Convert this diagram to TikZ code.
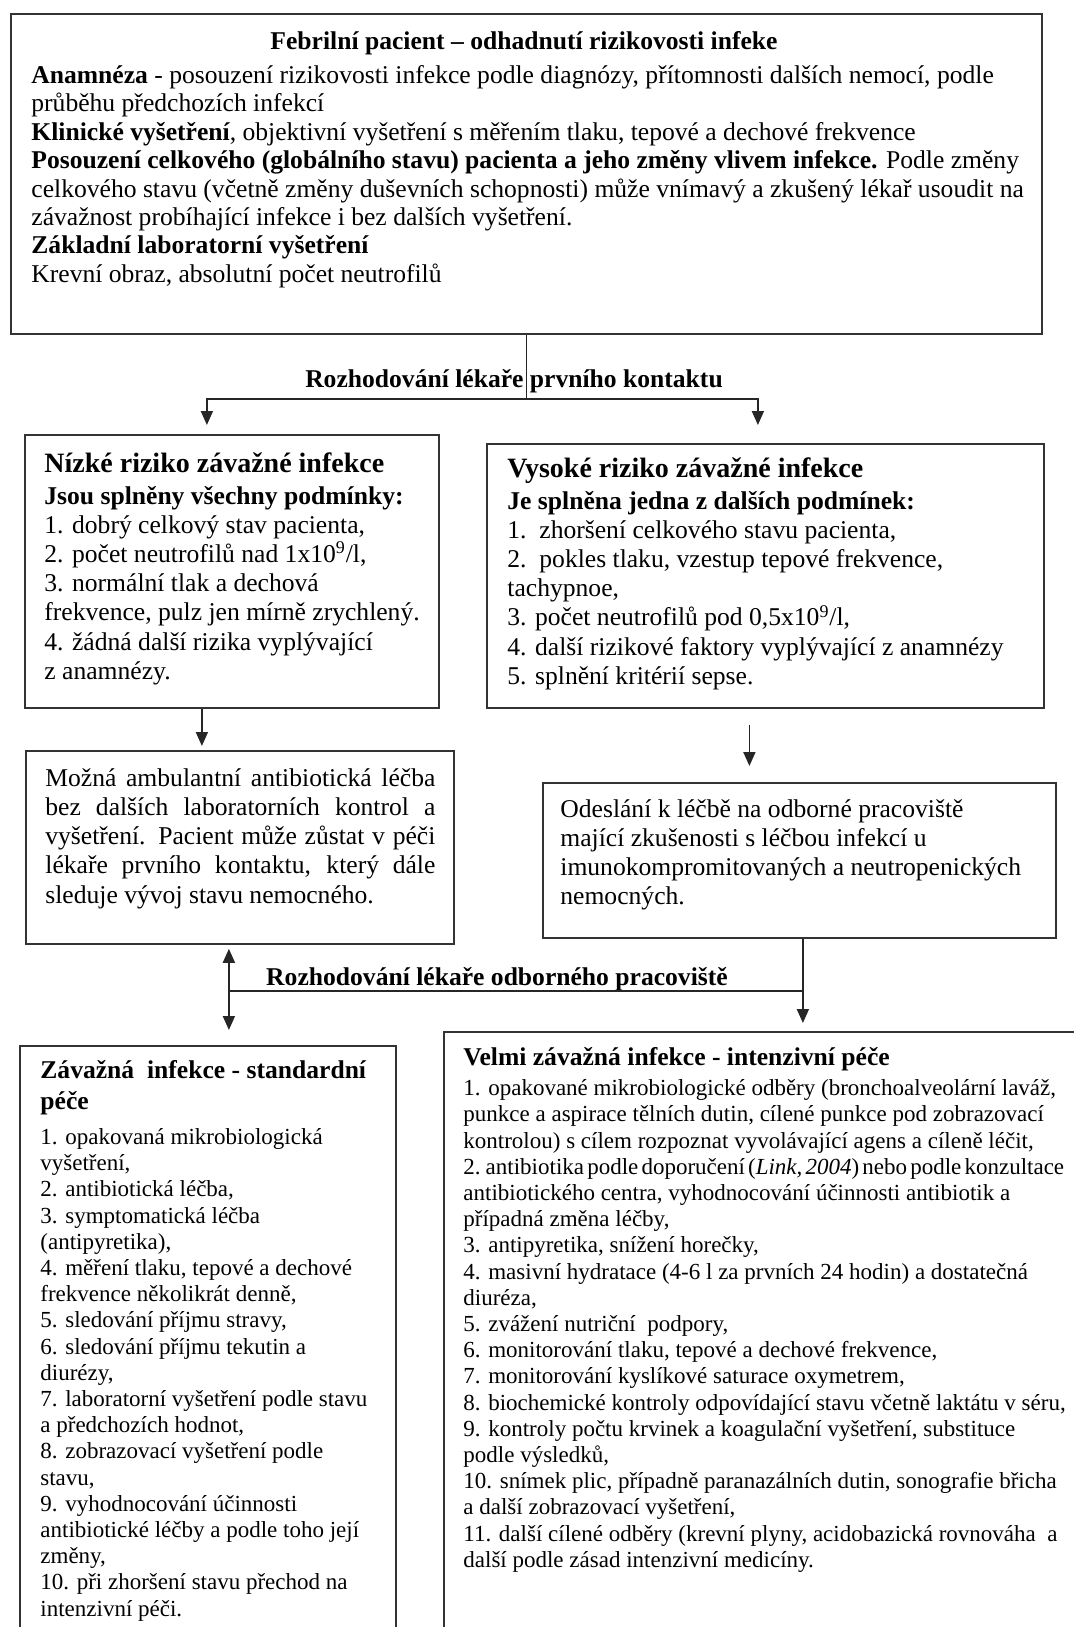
\documentclass[tikz,border=0pt]{standalone}
\usepackage{fontspec}
\setmainfont{Liberation Serif}
\usetikzlibrary{arrows.meta}

\newcommand\mainfont{\fontsize{12.8pt}{14.2pt}\selectfont}
\newcommand\riskfont{\fontsize{12.8pt}{14.6pt}\selectfont}
\newcommand\carefont{\fontsize{11.5pt}{13.1pt}\selectfont}
\newcommand\bighead{\fontsize{14pt}{15pt}\selectfont\bfseries}
\newcommand\smallhead{\fontsize{12.8pt}{14pt}\selectfont\bfseries}

\begin{document}
\begin{tikzpicture}[x=0.5pt, y=-0.5pt,
    box/.style={draw=black!80, line width=0.9pt, anchor=north west, inner sep=0pt},
    txt/.style={anchor=north west, inner sep=0pt, align=left},
    conn/.style={draw=black!85, line width=0.9pt},
    arr/.style={conn, -{Triangle[length=7pt,width=6pt]}},
    dblarr/.style={conn, {Triangle[length=7pt,width=6pt]}-{Triangle[length=7pt,width=6pt]}},
    lbl/.style={font=\smallhead, inner sep=0pt}]
    \clip (0,0) rectangle (1074,1627);

    % boxes
    \node[box, minimum width=515.5pt, minimum height=160pt] at (10,13) (pacient) {};
    \node[box, minimum width=207pt, minimum height=136.5pt] at (24,434) (nizke) {};
    \node[box, minimum width=278.5pt, minimum height=132pt] at (486,443) (vysoke) {};
    \node[box, minimum width=214pt, minimum height=96.5pt] at (25,750) (ambul) {};
    \node[box, minimum width=256.5pt, minimum height=77.5pt] at (542,782) (odesl) {};
    \node[box, minimum width=188pt, minimum height=310pt] at (19,1045) (standard) {};
    \node[box, minimum width=330pt, minimum height=320pt] at (443,1031) (intenziv) {};

    % texts
    \node[font=\smallhead, anchor=north, inner sep=0pt] at (524,31) (titul)
        {Febrilní pacient – odhadnutí rizikovosti infeke};
    \node[txt, font=\mainfont] at (31,65) (pacienttext)
        {\textbf{Anamnéza} - posouzení rizikovosti infekce podle diagnózy, přítomnosti dalších nemocí, podle\\
         průběhu předchozích infekcí\\
         \textbf{Klinické vyšetření}, objektivní vyšetření s měřením tlaku, tepové a dechové frekvence\\
         \textbf{Posouzení celkového (globálního stavu) pacienta a jeho změny vlivem infekce.} Podle změny\\
         celkového stavu (včetně změny duševních schopnosti) může vnímavý a zkušený lékař usoudit na\\
         závažnost probíhající infekce i bez dalších vyšetření.\\
         \textbf{Základní laboratorní vyšetření}\\
         Krevní obraz, absolutní počet neutrofilů};

    \node[txt, font=\riskfont] at (44,452) (nizketext)
        {{\bighead Nízké riziko závažné infekce}\\[1.4pt]
         \textbf{Jsou splněny všechny podmínky:}\\
         1. dobrý celkový stav pacienta,\\
         2. počet neutrofilů nad 1x10\textsuperscript{9}/l,\\
         3. normální tlak a dechová\\
         frekvence, pulz jen mírně zrychlený.\\
         4. žádná další rizika vyplývající\\
         z anamnézy.};

    \node[txt, font=\riskfont] at (507,457) (vysoketext)
        {{\bighead Vysoké riziko závažné infekce}\\[1.4pt]
         \textbf{Je splněna jedna z dalších podmínek:}\\
         1.\ \ zhoršení celkového stavu pacienta,\\
         2.\ \ pokles tlaku, vzestup tepové frekvence,\\
         tachypnoe,\\
         3. počet neutrofilů pod 0,5x10\textsuperscript{9}/l,\\
         4. další rizikové faktory vyplývající z anamnézy\\
         5. splnění kritérií sepse.};

    \node[txt, font=\riskfont, text width=195pt, align=justify] at (45,768) (ambultext)
        {Možná ambulantní antibiotická léčba\linebreak
         bez dalších laboratorních kontrol a\linebreak
         vyšetření. Pacient může zůstat v péči\linebreak
         lékaře prvního kontaktu, který dále\linebreak
         sleduje vývoj stavu nemocného.};

    \node[txt, font=\riskfont] at (560,799) (odesltext)
        {Odeslání k léčbě na odborné pracoviště\\
         mající zkušenosti s léčbou infekcí u\\
         imunokompromitovaných a neutropenických\\
         nemocných.};

    \node[txt, font=\carefont] at (40,1060) (standardtext)
        {{\smallhead Závažná\ \ infekce - standardní}\\[2.4pt]
         {\smallhead péče}\\[4.4pt]
         1. opakovaná mikrobiologická\\
         vyšetření,\\
         2. antibiotická léčba,\\
         3. symptomatická léčba\\
         (antipyretika),\\
         4. měření tlaku, tepové a dechové\\
         frekvence několikrát denně,\\
         5. sledování příjmu stravy,\\
         6. sledování příjmu tekutin a\\
         diurézy,\\
         7. laboratorní vyšetření podle stavu\\
         a předchozích hodnot,\\
         8. zobrazovací vyšetření podle\\
         stavu,\\
         9. vyhodnocování účinnosti\\
         antibiotické léčby a podle toho její\\
         změny,\\
         10. při zhoršení stavu přechod na\\
         intenzivní péči.};

    \node[txt, font=\carefont] at (463,1047) (intenzivtext)
        {{\smallhead Velmi závažná infekce - intenzivní péče}\\[2pt]
         1. opakované mikrobiologické odběry (bronchoalveolární laváž,\\
         punkce a aspirace tělních dutin, cílené punkce pod zobrazovací\\
         kontrolou) s cílem rozpoznat vyvolávající agens a cíleně léčit,\\
         {\spaceskip=0.55\fontdimen2\font 2. antibiotika podle doporučení (\textit{Link, 2004}) nebo podle konzultace}\\
         antibiotického centra, vyhodnocování účinnosti antibiotik a\\
         případná změna léčby,\\
         3. antipyretika, snížení horečky,\\
         4. masivní hydratace (4-6 l za prvních 24 hodin) a dostatečná\\
         diuréza,\\
         5. zvážení nutriční\ \ podpory,\\
         6. monitorování tlaku, tepové a dechové frekvence,\\
         7. monitorování kyslíkové saturace oxymetrem,\\
         8. biochemické kontroly odpovídající stavu včetně laktátu v séru,\\
         9. kontroly počtu krvinek a koagulační vyšetření, substituce\\
         podle výsledků,\\
         10. snímek plic, případně paranazálních dutin, sonografie břicha\\
         a další zobrazovací vyšetření,\\
         11. další cílené odběry (krevní plyny, acidobazická rovnováha\ \ a\\
         další podle zásad intenzivní medicíny.};

    % decisions
    \node[lbl] at (514,381) (kontakt) {Rozhodování lékaře prvního kontaktu};
    \node[lbl] at (497,979) (odborne) {Rozhodování lékaře odborného pracoviště};

    % connectors
    \coordinate (split) at (pacient.south |- 0,399);
    \draw[conn] (pacient.south) -- (split);
    \draw[arr] (split) -| ([xshift=-12.5pt,yshift=4.5pt]nizke.north);
    \draw[arr] (split) -| ([xshift=-3.75pt,yshift=9pt]vysoke.north);
    \draw[arr, shorten >=2pt] ([xshift=-15pt]nizke.south) -- ([xshift=-15pt]nizke.south |- ambul.north);
    \draw[arr, shorten <=8pt, shorten >=8pt] ([xshift=-8pt]vysoke.south) -- ([xshift=-8pt]vysoke.south |- odesl.north);
    \draw[arr, shorten >=4pt] ([xshift=1.75pt]odesl.south) -- ([xshift=1.75pt]odesl.south |- intenziv.north);
    \coordinate (join) at ([xshift=-5.5pt]ambul.south |- 0,991);
    \draw[conn] ([xshift=1.75pt]odesl.south |- join) -- (join);
    \draw[dblarr, shorten <=2pt, shorten >=7.5pt] ([xshift=-5.5pt]ambul.south) -- ([xshift=-5.5pt]ambul.south |- standard.north);
\end{tikzpicture}
\end{document}
